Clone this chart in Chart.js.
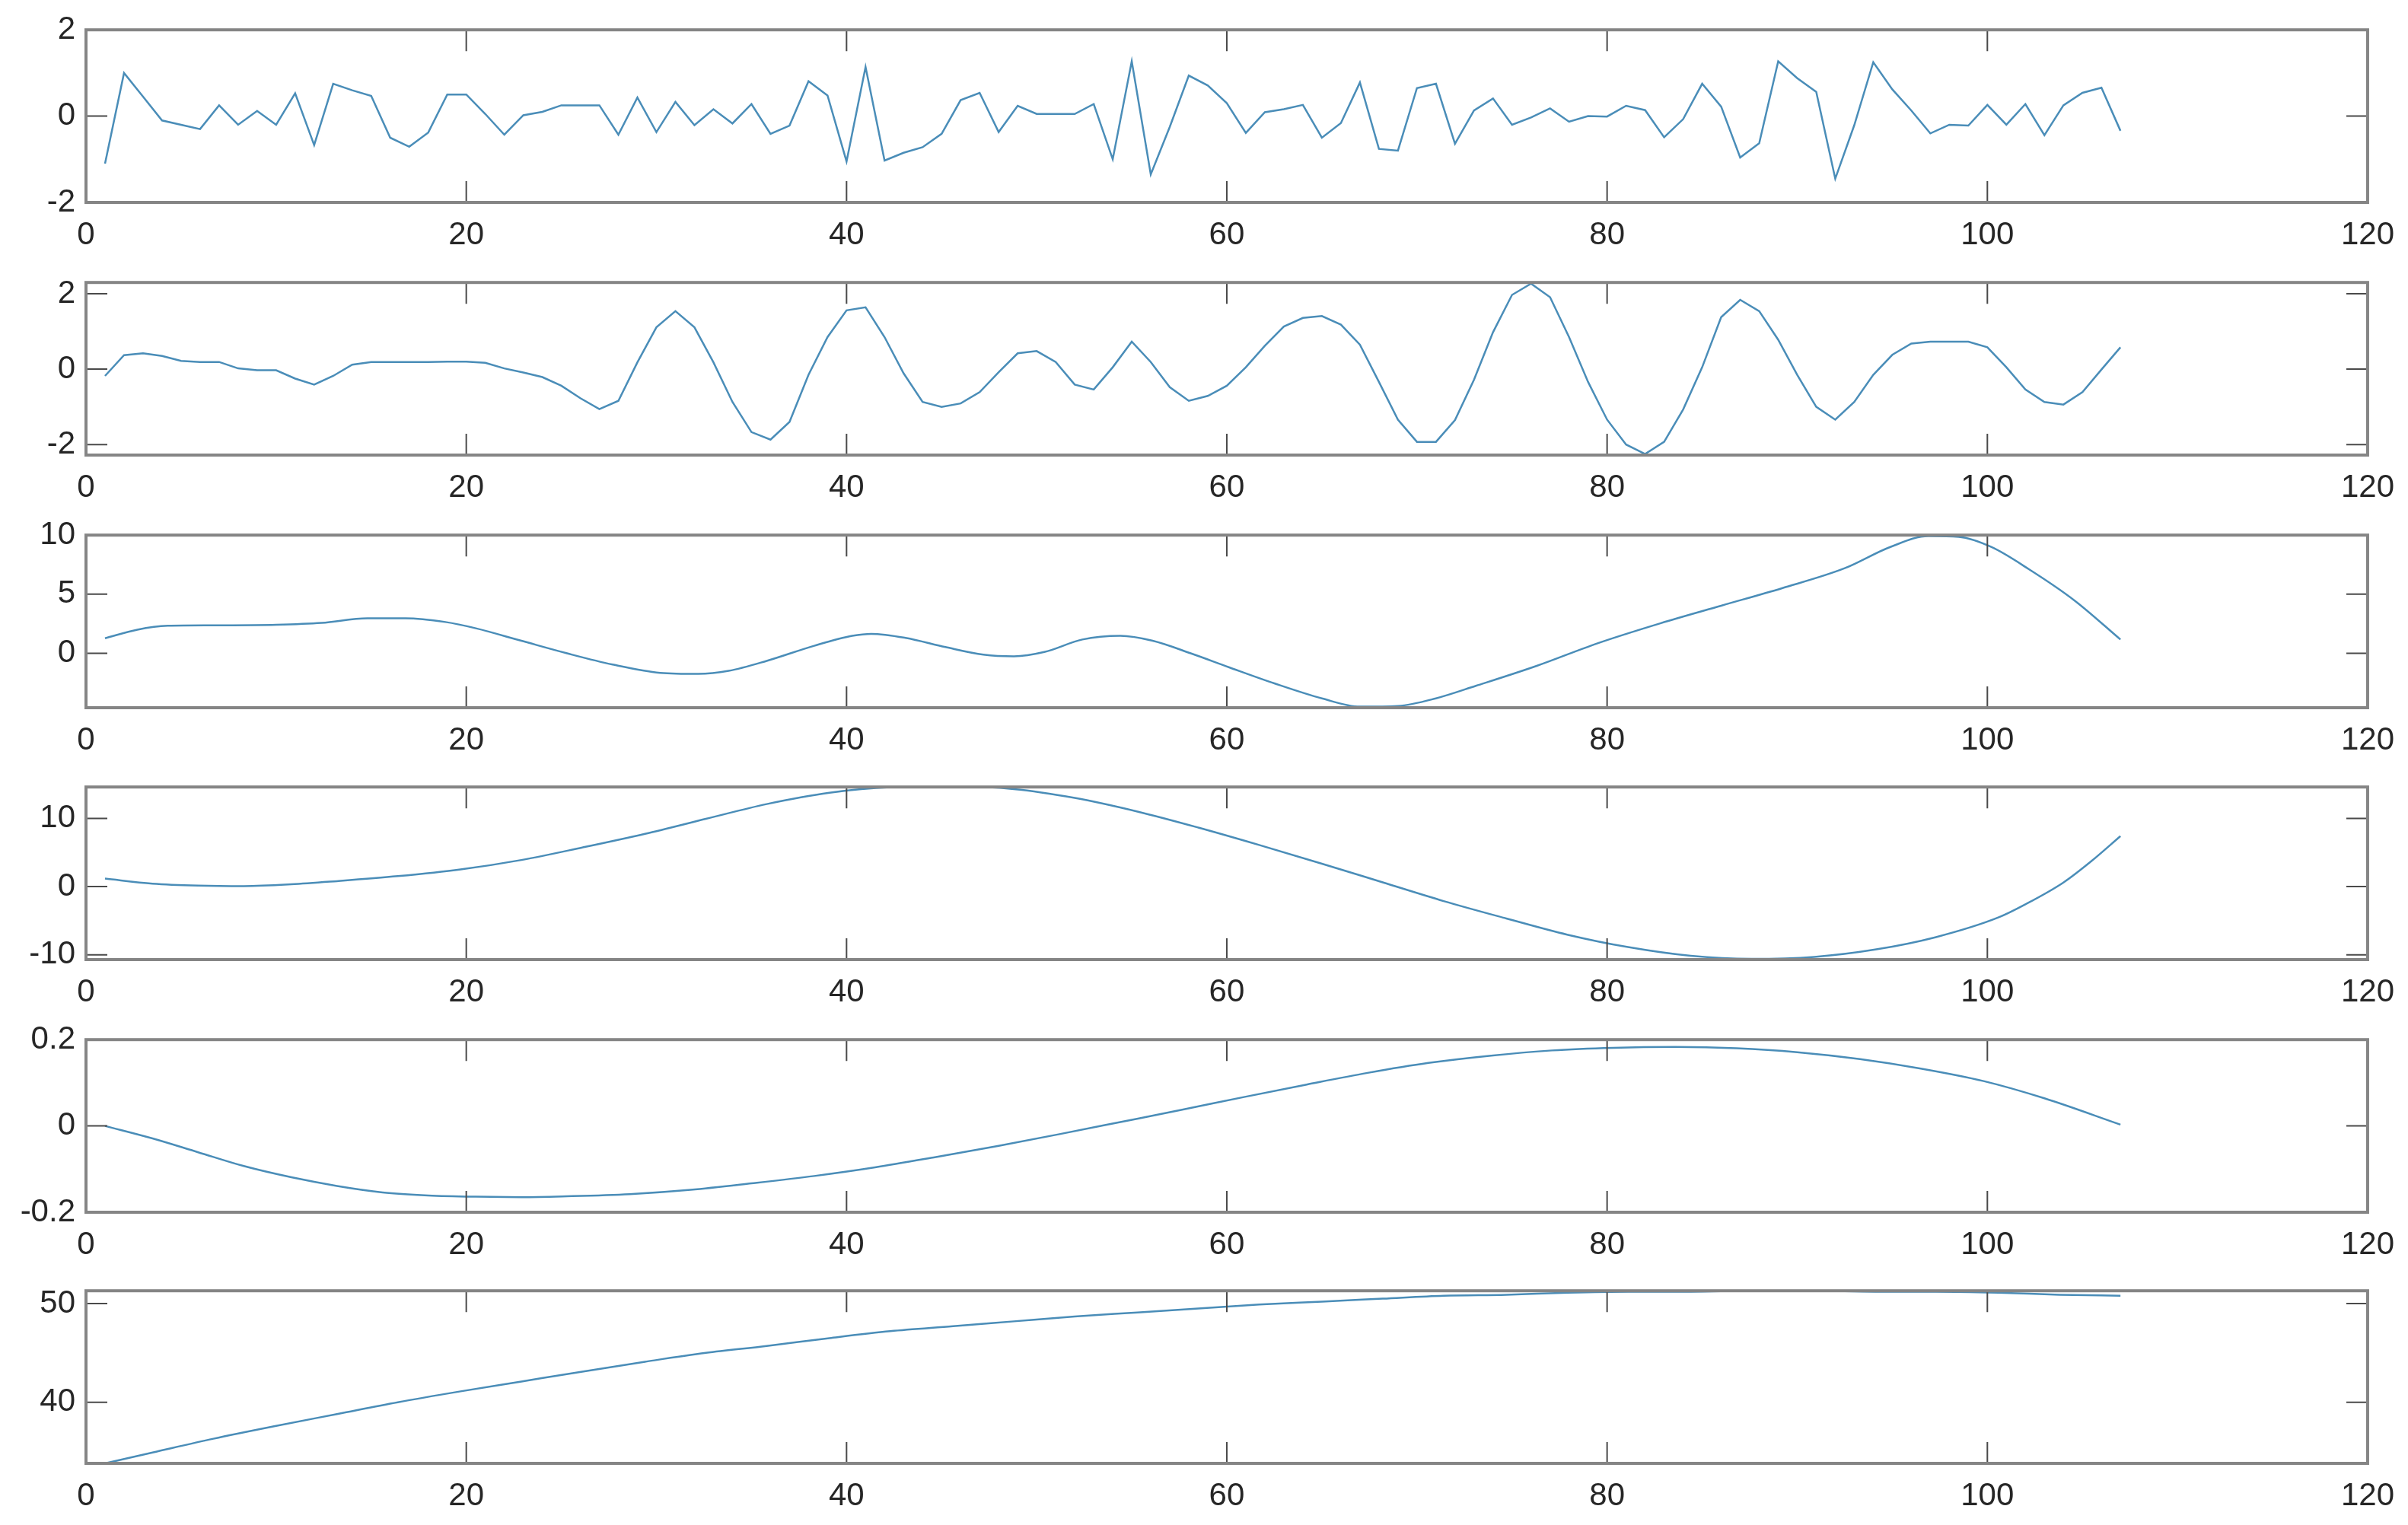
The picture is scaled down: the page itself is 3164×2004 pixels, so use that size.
<!DOCTYPE html>
<html>
<head>
<meta charset="utf-8">
<title>Six stacked panels</title>
<script src="https://cdn.jsdelivr.net/npm/chart.js@4.4.1/dist/chart.umd.min.js"></script>
<style>
  html, body { margin: 0; padding: 0; background: #fff; }
  #wrap { position: relative; width: 3164px; height: 2004px; overflow: hidden; background: #fff; }
  #wrap canvas { position: absolute; left: 0; }
</style>
</head>
<body>
<div id="wrap"></div>
<script>
// ---- data ----
const xTicks = [0, 20, 40, 60, 80, 100, 120];

// panels 1 and 2: one value per sample, x = 1..107
const p1Values = [
  -1.10, 1.00, 0.45, -0.10, -0.20, -0.30, 0.25, -0.20, 0.12, -0.20,
  0.53, -0.67, 0.75, 0.60, 0.47, -0.50, -0.71, -0.38, 0.50, 0.50,
  0.05, -0.43, 0.02, 0.10, 0.25, 0.25, 0.25, -0.43, 0.43, -0.37,
  0.33, -0.21, 0.16, -0.17, 0.28, -0.41, -0.22, 0.81, 0.48, -1.05,
  1.14, -1.03, -0.85, -0.72, -0.41, 0.37, 0.54, -0.37, 0.24, 0.05,
  0.05, 0.05, 0.28, -1.00, 1.27, -1.35, -0.25, 0.94, 0.71, 0.30,
  -0.39, 0.09, 0.16, 0.26, -0.50, -0.16, 0.78, -0.76, -0.80, 0.65,
  0.75, -0.64, 0.13, 0.41, -0.20, -0.03, 0.18, -0.13, 0.00, -0.01,
  0.24, 0.14, -0.49, -0.07, 0.75, 0.22, -0.96, -0.63, 1.27, 0.88,
  0.56, -1.45, -0.21, 1.25, 0.62, 0.13, -0.40, -0.20, -0.22, 0.26,
  -0.20, 0.28, -0.44, 0.25, 0.54, 0.66, -0.34
];
const p2Values = [
  -0.18, 0.37, 0.42, 0.35, 0.22, 0.19, 0.19, 0.02, -0.03, -0.03,
  -0.25, -0.41, -0.18, 0.12, 0.19, 0.19, 0.19, 0.19, 0.20, 0.20,
  0.17, 0.02, -0.09, -0.21, -0.44, -0.77, -1.06, -0.84, 0.18, 1.11,
  1.54, 1.11, 0.18, -0.87, -1.67, -1.87, -1.40, -0.15, 0.85, 1.56,
  1.64, 0.85, -0.11, -0.87, -1.00, -0.91, -0.61, -0.08, 0.42, 0.48,
  0.19, -0.41, -0.54, 0.05, 0.73, 0.19, -0.48, -0.84, -0.71, -0.44,
  0.05, 0.62, 1.13, 1.36, 1.41, 1.18, 0.65, -0.34, -1.34, -1.93,
  -1.93, -1.35, -0.28, 0.98, 1.97, 2.27, 1.91, 0.85, -0.34, -1.34,
  -2.00, -2.25, -1.93, -1.07, 0.05, 1.38, 1.84, 1.54, 0.78, -0.15,
  -1.00, -1.34, -0.87, -0.15, 0.38, 0.68, 0.73, 0.73, 0.73, 0.58,
  0.05, -0.54, -0.87, -0.94, -0.61, -0.01, 0.58
];
const sampleX = p1Values.map((v, i) => i + 1);

// panels 3..6: smooth curves, read at the x positions listed
const p3X = [1, 2.7, 4.3, 6.7, 10, 12.4, 14.8, 16.8, 18.9, 20.5, 22.9, 25.3, 27.7, 30.2, 32.2, 33.8, 35.8,
  38.3, 40.3, 41.3, 43.1, 45.2, 47.2, 48.8, 50.4, 52.4, 54.4, 56.1, 58.1, 60.1, 62.5, 65, 67, 69, 71,
  73.1, 76.3, 79.5, 82.8, 86, 89.2, 92.5, 94.9, 96.9, 98.5, 100.2, 102.2, 104.6, 107];
const p3Values = [1.27, 2.0, 2.33, 2.37, 2.42, 2.58, 2.97, 2.97, 2.65, 2.12, 1.06, 0, -0.95, -1.65, -1.74, -1.48, -0.64,
  0.64, 1.48, 1.65, 1.31, 0.53, -0.11, -0.25, 0.11, 1.17, 1.48, 1.06, 0, -1.17, -2.54, -3.81, -4.51, -4.45, -3.81,
  -2.75, -1.06, 0.85, 2.54, 4.03, 5.51, 7.2, 9.0, 9.92, 9.85, 9.0, 7.1, 4.45, 1.17];

const p4X = [1, 3.5, 5.9, 8.3, 10.8, 13.2, 16.4, 19.7, 22.9, 26.1, 29.4, 32.6, 35.8, 39.1, 42.3, 45.6, 48.8, 52,
  55.3, 58.5, 61.7, 65, 68.2, 71.4, 74.7, 77.9, 81.1, 84.4, 87.6, 90.9, 94.1, 97.3, 100.6, 102, 104, 105.5, 107];
const p4Values = [1.17, 0.44, 0.15, 0.07, 0.33, 0.8, 1.53, 2.52, 3.9, 5.73, 7.74, 9.93, 12.1, 13.76, 14.56, 14.67, 14.3, 13.0,
  11.0, 8.65, 6.1, 3.36, 0.62, -2.12, -4.67, -7.04, -8.87, -10.15, -10.6, -10.3, -9.23, -7.4, -4.5, -2.6, 0.6, 3.8, 7.4];

const p5X = [1, 3.5, 5.9, 8.3, 10.8, 13.2, 15.6, 18, 20.5, 22.9, 25.3, 28.6, 31.8, 35, 38.3, 41.5, 44.7, 48,
  51.2, 54.4, 57.7, 60.9, 64.2, 67.4, 70.6, 73.9, 77.1, 80.3, 83.6, 86.8, 90, 93.3, 96.5, 99.8, 103, 107];
const p5Values = [0, -0.029, -0.061, -0.093, -0.119, -0.139, -0.154, -0.161, -0.164, -0.165, -0.163, -0.158, -0.148,
  -0.133, -0.116, -0.096, -0.072, -0.046, -0.019, 0.009, 0.038, 0.067, 0.096, 0.123, 0.146, 0.163, 0.175, 0.181,
  0.183, 0.18, 0.171, 0.155, 0.133, 0.104, 0.064, 0.003];

const p6X = [1, 3.5, 6.7, 10, 13.2, 16.4, 19.7, 22.9, 26.1, 29.4, 32.6, 35.8, 39.1, 42.3, 45.6, 48.8, 52, 55.3,
  58.5, 61.7, 65, 68.2, 71.4, 74.7, 77.9, 81.1, 84.4, 87.6, 90.9, 94.1, 97.3, 100.6, 103.8, 107];
const p6Values = [33.8, 34.9, 36.3, 37.6, 38.8, 40.0, 41.1, 42.1, 43.1, 44.1, 45.0, 45.7, 46.5, 47.2, 47.7, 48.2, 48.7, 49.1,
  49.5, 49.9, 50.2, 50.5, 50.8, 50.9, 51.1, 51.2, 51.2, 51.3, 51.3, 51.2, 51.2, 51.1, 50.9, 50.8];

// y limits and tick labels per panel
const yMins = [-2, -2.28, -4.6, -10.7, -0.2, 33.8];
const yMaxs = [2, 2.3, 10, 14.6, 0.2, 51.3];
const yTicks = [[-2, 0, 2], [-2, 0, 2], [0, 5, 10], [-10, 0, 10], [-0.2, 0, 0.2], [40, 50]];

const seriesX = [sampleX, sampleX, p3X, p4X, p5X, p6X];
const seriesY = [p1Values, p2Values, p3Values, p4Values, p5Values, p6Values];
const smooth = [false, false, true, true, true, true];

// ---- layout ----
const panelTop = [35, 367, 699, 1030, 1362, 1692];
const panelH = 231;
const padTop = 35;
const xAxisH = 65;
const LINE = '#4a8db8';
const TEXT = '#262626';
const FONT = { family: "'Liberation Sans', Arial, sans-serif", size: 42 };

// MATLAB-like box with inward ticks
const matlabBox = {
  id: 'matlabBox',
  afterDraw(chart) {
    const { ctx, chartArea: a, scales } = chart;
    const tl = 28;
    ctx.save();
    ctx.strokeStyle = '#4a4a4a';
    ctx.lineWidth = 2;
    ctx.beginPath();
    scales.x.ticks.forEach(t => {
      const px = scales.x.getPixelForValue(t.value);
      if (px <= a.left + 2 || px >= a.right - 2) return;
      ctx.moveTo(px, a.bottom); ctx.lineTo(px, a.bottom - tl);
      ctx.moveTo(px, a.top); ctx.lineTo(px, a.top + tl);
    });
    scales.y.ticks.forEach(t => {
      const py = scales.y.getPixelForValue(t.value);
      if (py <= a.top + 2 || py >= a.bottom - 2) return;
      ctx.moveTo(a.left, py); ctx.lineTo(a.left + tl, py);
      ctx.moveTo(a.right, py); ctx.lineTo(a.right - tl, py);
    });
    ctx.stroke();
    ctx.strokeStyle = '#858585';
    ctx.lineWidth = 4;
    ctx.strokeRect(a.left, a.top, a.right - a.left, a.bottom - a.top);
    ctx.restore();
  }
};

const wrap = document.getElementById('wrap');

seriesY.forEach((vals, i) => {
  const canvas = document.createElement('canvas');
  canvas.width = 3164;
  canvas.height = padTop + panelH + xAxisH;
  canvas.style.top = (panelTop[i] - padTop) + 'px';
  wrap.appendChild(canvas);

  new Chart(canvas, {
    type: 'line',
    data: {
      datasets: [{
        data: vals.map((v, k) => ({ x: seriesX[i][k], y: v })),
        borderColor: LINE,
        borderWidth: 2.5,
        pointRadius: 0,
        fill: false,
        tension: smooth[i] ? 0.4 : 0,
        cubicInterpolationMode: smooth[i] ? 'monotone' : 'default'
      }]
    },
    options: {
      responsive: false,
      animation: false,
      devicePixelRatio: 1,
      layout: { padding: { top: padTop, right: 53, bottom: 0, left: 0 } },
      plugins: { legend: { display: false }, tooltip: { enabled: false } },
      scales: {
        x: {
          type: 'linear',
          min: 0,
          max: 120,
          grid: { display: false, drawTicks: false },
          border: { display: false },
          afterBuildTicks: s => { s.ticks = xTicks.map(v => ({ value: v })); },
          afterFit: s => { s.height = xAxisH; },
          ticks: { padding: 18, color: TEXT, font: FONT, maxRotation: 0, autoSkip: false,
                   callback: v => String(v) }
        },
        y: {
          type: 'linear',
          min: yMins[i],
          max: yMaxs[i],
          grid: { display: false, drawTicks: false },
          border: { display: false },
          afterBuildTicks: s => { s.ticks = yTicks[i].map(v => ({ value: v })); },
          afterFit: s => { s.width = 113; },
          ticks: { padding: 14, color: TEXT, font: FONT, autoSkip: false,
                   callback: v => String(v) }
        }
      }
    },
    plugins: [matlabBox]
  });
});
</script>
</body>
</html>
